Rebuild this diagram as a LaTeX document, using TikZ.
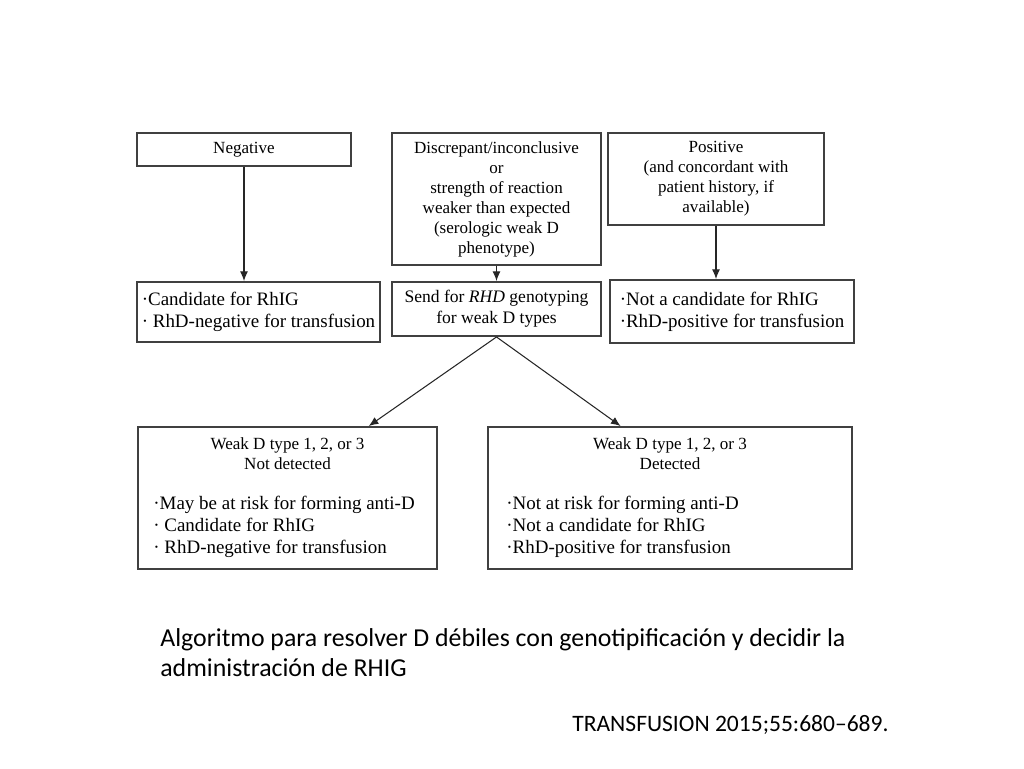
\documentclass[tikz,border=0pt]{standalone}
\usepackage{fontspec}
\setmainfont{Liberation Serif}
\newfontfamily\capfont{Carlito}
\usetikzlibrary{positioning,calc,arrows.meta}

\tikzset{
  box/.style={draw=black!75, line width=1.1pt, inner sep=1pt, align=center, font=\fontsize{9.7}{11.4}\selectfont},
  boxtxt/.style={inner sep=0pt, align=left, font=\fontsize{9.7}{11.6}\selectfont},
  bigtxt/.style={font=\fontsize{10.8}{12.5}\selectfont},
  arr/.style={-{Latex[length=5.5pt,width=4.5pt]}, line width=0.6pt, black!85},
}

\begin{document}
\begin{tikzpicture}[x=0.02cm,y=-0.02cm]
  \useasboundingbox (0,0) rectangle (1024,768);

  % test results
  \node[box, minimum width=4.28cm, minimum height=0.66cm] (negBox) at (244,149.5) {Negative};
  \node[box, minimum width=4.18cm, minimum height=2.64cm] (discBox) at (496.5,199) {Discrepant/inconclusive\\or\\strength of reaction\\weaker than expected\\(serologic weak D\\phenotype)};
  \node[box, minimum width=4.32cm, minimum height=1.84cm] (posBox) at (716,179) {Positive\\(and concordant with\\patient history, if\\available)};

  % what to do
  \node[box, bigtxt, align=left, minimum width=4.86cm, minimum height=1.2cm] (candBox) at (258.5,312) {·Candidate for RhIG\\· RhD-negative for transfusion};
  \node[box, font=\fontsize{10}{12}\selectfont, minimum width=4.18cm, minimum height=1.08cm] (sendBox) at (496.5,309) {Send for \emph{RHD} genotyping\\for weak D types};
  \node[box, bigtxt, align=left, minimum width=4.88cm, minimum height=1.26cm] (notcandBox) at (732,311.5) {·Not a candidate for RhIG\\·RhD-positive for transfusion};

  % genotyping outcome
  \node[box, minimum width=5.98cm, minimum height=2.84cm] (notdetBox) at (287.5,498) {};
  \node[box, minimum width=7.28cm, minimum height=2.84cm] (detBox) at (670,498) {};
  \node[boxtxt, align=center, below=0.22cm of notdetBox.north] (notdetHead) {Weak D type 1, 2, or 3\\Not detected};
  \node[boxtxt, align=center, below=0.22cm of detBox.north] (detHead) {Weak D type 1, 2, or 3\\Detected};
  \node[boxtxt, bigtxt, anchor=west] (notdetList) at (153,527) {·May be at risk for forming anti-D\\· Candidate for RhIG\\· RhD-negative for transfusion};
  \node[boxtxt, bigtxt, anchor=west] (detList) at (506,527) {·Not at risk for forming anti-D\\·Not a candidate for RhIG\\·RhD-positive for transfusion};

  \draw[arr] (negBox.south) -- (negBox.south |- candBox.north);
  \draw[arr] (discBox.south) -- (sendBox.north);
  \draw[arr] (posBox.south) -- (posBox.south |- notcandBox.north);
  \draw[arr] (sendBox.south) -- ($(notdetBox.north west)!0.77!(notdetBox.north east)$);
  \draw[arr] (sendBox.south) -- ($(detBox.north west)!0.365!(detBox.north east)$);

  % caption
  \node[anchor=north west, align=left, inner sep=0pt, font=\capfont\fontsize{14.7}{17.2}\selectfont] (caption) at (160,628) {Algoritmo para resolver D débiles con genotipificación y decidir la\\administración de RHIG};
  \node[anchor=west, inner sep=0pt, font=\capfont\fontsize{13.4}{16}\selectfont] (source) at (572,725) {TRANSFUSION 2015;55:680–689.};
\end{tikzpicture}
\end{document}
